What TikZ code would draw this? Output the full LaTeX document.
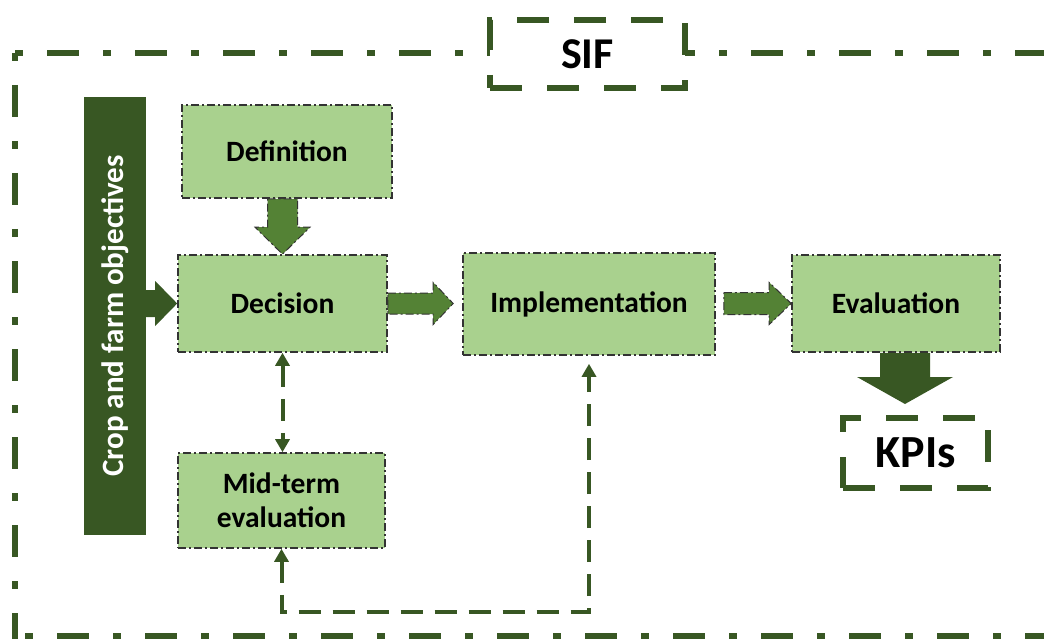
\documentclass[tikz,border=0pt]{standalone}
\usepackage{fontspec}
\setmainfont{Carlito}
\usetikzlibrary{arrows.meta,calc}
\definecolor{lgreen}{HTML}{A9D18E}
\definecolor{dgreen}{HTML}{385723}
\definecolor{mgreen}{HTML}{548235}
\definecolor{bordergray}{HTML}{333333}
\tikzset{
  stage/.style={draw=bordergray, fill=lgreen, line width=1.6pt,
    dash pattern=on 8pt off 3pt on 2pt off 3pt,
    font=\fontsize{29.5}{34}\selectfont\bfseries, align=center, inner sep=0pt},
  greenframe/.style={draw=dgreen, fill=white, line width=6pt, dash pattern=on 32pt off 25pt,
    font=\fontsize{44}{50}\selectfont\bfseries, inner sep=0pt},
  outerline/.style={draw=dgreen, line width=6pt, dash pattern=on 8pt off 24pt on 32pt off 24pt},
  midarrow/.style={fill=mgreen, draw=bordergray, line width=1pt, dash pattern=on 8pt off 3pt on 2pt off 3pt},
  darkarrow/.style={fill=dgreen},
  link/.style={draw=dgreen, line width=4pt, dash pattern=on 22pt off 12pt,
    {Triangle[width=14pt,length=13pt]}-{Triangle[width=14pt,length=13pt]}},
}
\begin{document}
\begin{tikzpicture}[x=1pt,y=-1pt]
\useasboundingbox (0,0) rectangle (1044,639);
\clip (0,0) rectangle (1044,639);

% outer SIF frame
\draw[outerline] (15,53) -- (1060,53);
\draw[outerline] (15,53) -- (15,660);
\draw[outerline] (25,636) -- (1060,636);

\node[greenframe, minimum width=195pt, minimum height=68pt] (sif) at (587.5,54) {SIF};

% bar
\node[fill=dgreen, minimum width=62pt, minimum height=438pt, inner sep=0pt] (bar) at (115,316) {};
\node[rotate=90, text=white, font=\fontsize{31}{34}\selectfont\bfseries] (bartext) at (bar.center) {Crop and farm objectives};

% stages
\node[stage, minimum width=210pt, minimum height=93pt] (def) at (287,151.5) {Definition};
\node[stage, minimum width=209pt, minimum height=97pt] (dec) at (282.5,303.5) {Decision};
\node[stage, minimum width=252pt, minimum height=102pt] (impl) at (589,304) {Implementation};
\node[stage, minimum width=208pt, minimum height=97pt] (eval) at (896,303.5) {Evaluation};
\node[stage, minimum width=207pt, minimum height=95pt] (mid) at (281.5,500.5) {Mid-term\\evaluation};

\node[greenframe, minimum width=145pt, minimum height=70pt, font=\fontsize{46}{50}\selectfont\bfseries] (kpis) at (915.5,453) {KPIs};

% block arrows
\fill[darkarrow] let \p1=(bar.east), \p2=(dec.west) in
  (\x1,\y2+13.5pt) -- (\x2-22pt,\y2+13.5pt) -- (\x2-22pt,\y2+22.5pt) -- (\x2,\y2)
  -- (\x2-22pt,\y2-22.5pt) -- (\x2-22pt,\y2-13.5pt) -- (\x1,\y2-13.5pt) -- cycle;

\filldraw[midarrow] let \p1=(def.south), \p2=(dec.north) in
  (\x2-15pt,\y1) -- (\x2+15pt,\y1) -- (\x2+15pt,\y2+27pt) -- (\x2+27.5pt,\y2+27pt)
  -- (\x2,\y2) -- (\x2-27.5pt,\y2+27pt) -- (\x2-15pt,\y2+27pt) -- cycle;

\filldraw[midarrow] let \p1=(dec.east), \p2=(impl.west) in
  (\x1,\y1+10.5pt) -- (\x2-29pt,\y1+10.5pt) -- (\x2-29pt,\y1+21pt) -- (\x2-9pt,\y1)
  -- (\x2-29pt,\y1-21pt) -- (\x2-29pt,\y1-10.5pt) -- (\x1,\y1-10.5pt) -- cycle;

\filldraw[midarrow] let \p1=(impl.east), \p2=(eval.west) in
  (\x1+8pt,\y2+11pt) -- (\x2-22pt,\y2+11pt) -- (\x2-22pt,\y2+21pt) -- (\x2,\y2)
  -- (\x2-22pt,\y2-21pt) -- (\x2-22pt,\y2-11pt) -- (\x1+8pt,\y2-11pt) -- cycle;

\fill[darkarrow] let \p1=(eval.south), \p2=(kpis.north) in
  (\x1-16pt,\y1) -- (\x1+34pt,\y1) -- (\x1+34pt,\y2+38pt) -- (\x1+57pt,\y2+38pt)
  -- (\x1+9pt,\y2+11pt) -- (\x1-39pt,\y2+38pt) -- (\x1-16pt,\y2+38pt) -- cycle;

% dashed feedback links
\draw[link] (dec.south) -- (dec.south |- mid.north);
\draw[link] (mid.south) -- ++(0,63) -| ([yshift=-8pt]impl.south);
\end{tikzpicture}
\end{document}
